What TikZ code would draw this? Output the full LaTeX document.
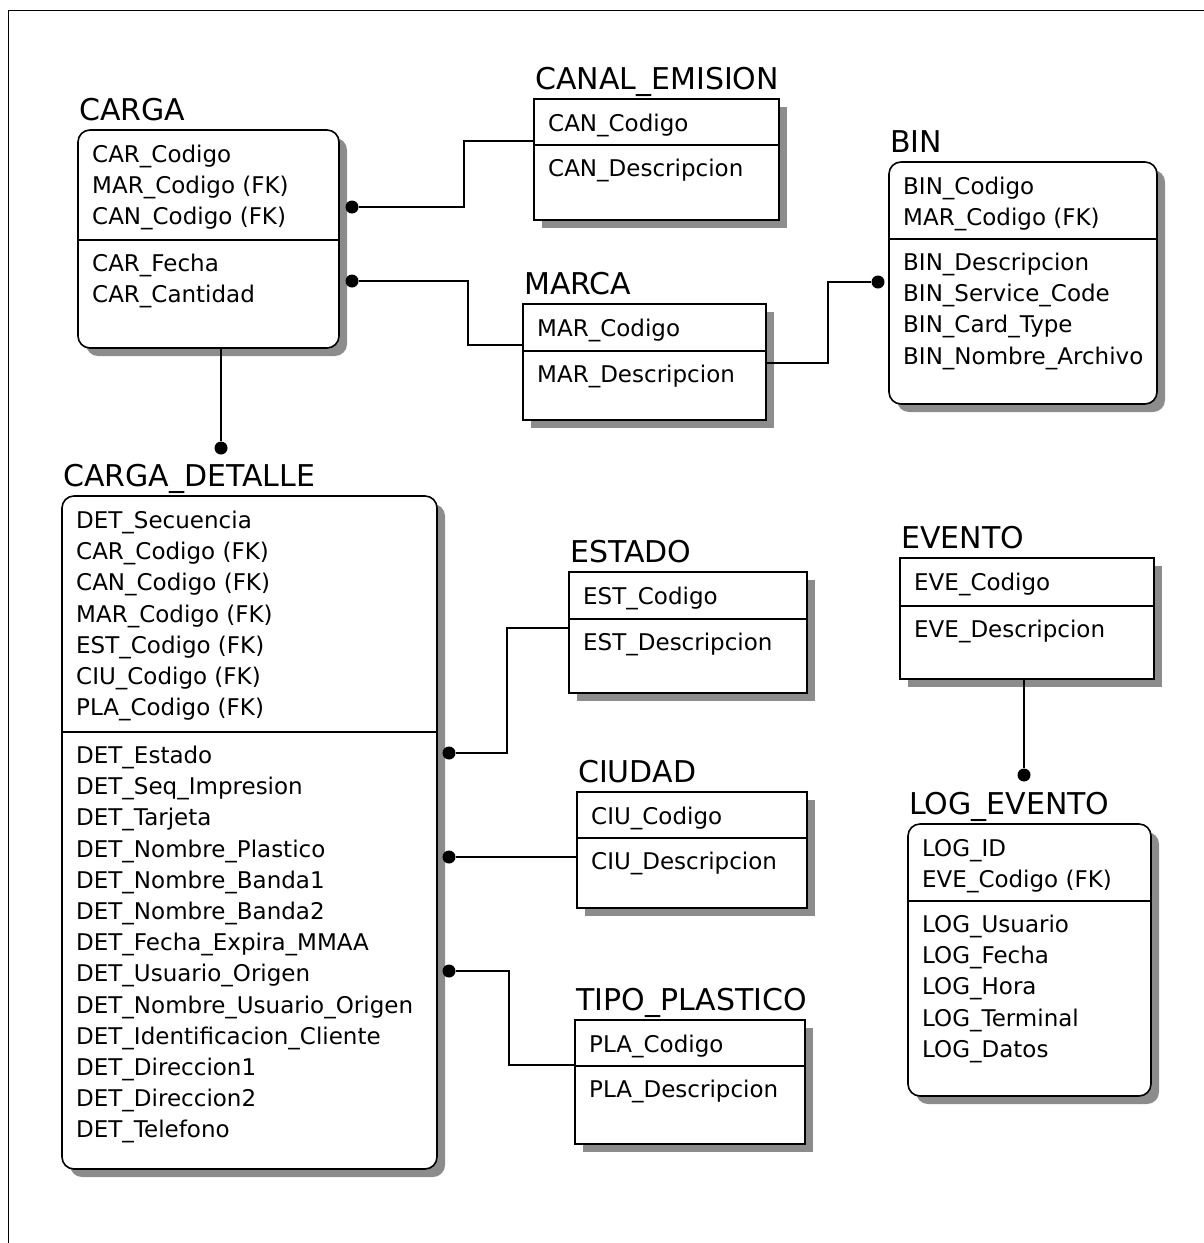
\documentclass[tikz,border=0pt]{standalone}
\usepackage{fontspec}
\setmainfont{DejaVu Sans}
\usetikzlibrary{shadows}

\tikzset{
        tabla/.style={draw, line width=1.6pt, fill=white, anchor=north west, inner sep=0, outer sep=0,
                drop shadow={shadow xshift=8pt, shadow yshift=-8pt, fill=black!45, opacity=1}},
        tablaR/.style={tabla, rounded corners=12pt},
        titulo/.style={anchor=base west, inner sep=0, font=\fontsize{30}{36}\selectfont},
        % campos: anchored at the baseline of the LAST line
        campos/.style={anchor=base west, inner sep=0, align=left, font=\fontsize{23}{31.2}\selectfont},
        punto/.style={circle, fill, inner sep=0, minimum size=13pt},
        rel/.style={line width=1.4pt},
        linea/.style={line width=1.6pt}
}

\begin{document}
\begin{tikzpicture}[x=1pt, y=-1pt]
        \useasboundingbox (0,0) rectangle (1204,1243);
        \draw[line width=1.5pt] (8.5,1243) -- (8.5,10.5) -- (1204,10.5);

        % CARGA
        \node[titulo] (cargaT) at (79,120.5) {CARGA};
        \node[tablaR, minimum width=261, minimum height=218] (carga) at (78,130) {};
        \node[campos] (cargaK) at (92,224.9) {CAR\_Codigo\\MAR\_Codigo (FK)\\CAN\_Codigo (FK)};
        \draw[linea] (carga.west |- 0,240) -- (carga.east |- 0,240);
        \node[campos] (cargaA) at (92,302.7) {CAR\_Fecha\\CAR\_Cantidad};

        % CANAL_EMISION
        \node[titulo] (canalT) at (535,89.5) {CANAL\_EMISION};
        \node[tabla, minimum width=245, minimum height=121] (canal) at (534,99) {};
        \node[campos] (canalK) at (548,131.5) {CAN\_Codigo};
        \draw[linea] (canal.west |- 0,145) -- (canal.east |- 0,145);
        \node[campos] (canalA) at (548,176.5) {CAN\_Descripcion};

        % MARCA
        \node[titulo] (marcaT) at (524,294.5) {MARCA};
        \node[tabla, minimum width=243, minimum height=116] (marca) at (523,304) {};
        \node[campos] (marcaK) at (537,336.5) {MAR\_Codigo};
        \draw[linea] (marca.west |- 0,351) -- (marca.east |- 0,351);
        \node[campos] (marcaA) at (537,382.5) {MAR\_Descripcion};

        % BIN
        \node[titulo] (binT) at (890,152.5) {BIN};
        \node[tablaR, minimum width=268, minimum height=242] (bin) at (889,162) {};
        \node[campos] (binK) at (903,225.7) {BIN\_Codigo\\MAR\_Codigo (FK)};
        \draw[linea] (bin.west |- 0,239) -- (bin.east |- 0,239);
        \node[campos] (binA) at (903,364.1) {BIN\_Descripcion\\BIN\_Service\_Code\\BIN\_Card\_Type\\BIN\_Nombre\_Archivo};

        % CARGA_DETALLE
        \node[titulo] (detT) at (63,486.5) {CARGA\_DETALLE};
        \node[tablaR, minimum width=375, minimum height=673] (det) at (62,496) {};
        \node[campos] (detK) at (76,715.7) {DET\_Secuencia\\CAR\_Codigo (FK)\\CAN\_Codigo (FK)\\MAR\_Codigo (FK)\\EST\_Codigo (FK)\\CIU\_Codigo (FK)\\PLA\_Codigo (FK)};
        \draw[linea] (det.west |- 0,732) -- (det.east |- 0,732);
        \node[campos] (detA) at (76,1137.9) {DET\_Estado\\DET\_Seq\_Impresion\\DET\_Tarjeta\\DET\_Nombre\_Plastico\\DET\_Nombre\_Banda1\\DET\_Nombre\_Banda2\\DET\_Fecha\_Expira\_MMAA\\DET\_Usuario\_Origen\\DET\_Nombre\_Usuario\_Origen\\DET\_Identificacion\_Cliente\\DET\_Direccion1\\DET\_Direccion2\\DET\_Telefono};

        % ESTADO
        \node[titulo] (estadoT) at (570,562.5) {ESTADO};
        \node[tabla, minimum width=238, minimum height=121] (estado) at (569,572) {};
        \node[campos] (estadoK) at (583,604.5) {EST\_Codigo};
        \draw[linea] (estado.west |- 0,619) -- (estado.east |- 0,619);
        \node[campos] (estadoA) at (583,650.5) {EST\_Descripcion};

        % CIUDAD
        \node[titulo] (ciudadT) at (578,782.5) {CIUDAD};
        \node[tabla, minimum width=230, minimum height=116] (ciudad) at (577,792) {};
        \node[campos] (ciudadK) at (591,824.5) {CIU\_Codigo};
        \draw[linea] (ciudad.west |- 0,838) -- (ciudad.east |- 0,838);
        \node[campos] (ciudadA) at (591,869.5) {CIU\_Descripcion};

        % TIPO_PLASTICO
        \node[titulo] (tipoT) at (576,1010.5) {TIPO\_PLASTICO};
        \node[tabla, minimum width=230, minimum height=124] (tipo) at (575,1020) {};
        \node[campos] (tipoK) at (589,1052.5) {PLA\_Codigo};
        \draw[linea] (tipo.west |- 0,1066) -- (tipo.east |- 0,1066);
        \node[campos] (tipoA) at (589,1097.5) {PLA\_Descripcion};

        % EVENTO
        \node[titulo] (eventoT) at (901,548.5) {EVENTO};
        \node[tabla, minimum width=254, minimum height=121] (evento) at (900,558) {};
        \node[campos] (eventoK) at (914,590.5) {EVE\_Codigo};
        \draw[linea] (evento.west |- 0,606) -- (evento.east |- 0,606);
        \node[campos] (eventoA) at (914,637.5) {EVE\_Descripcion};

        % LOG_EVENTO
        \node[titulo] (logT) at (909,814.5) {LOG\_EVENTO};
        \node[tablaR, minimum width=243, minimum height=272] (log) at (908,824) {};
        \node[campos] (logK) at (922,887.7) {LOG\_ID\\EVE\_Codigo (FK)};
        \draw[linea] (log.west |- 0,901) -- (log.east |- 0,901);
        \node[campos] (logA) at (922,1057.3) {LOG\_Usuario\\LOG\_Fecha\\LOG\_Hora\\LOG\_Terminal\\LOG\_Datos};

        % puntos
        \node[punto] (d1) at (352,207) {};
        \node[punto] (d2) at (352,281) {};
        \node[punto] (d3) at (878,282) {};
        \node[punto] (d4) at (221,448) {};
        \node[punto] (d5) at (449,753) {};
        \node[punto] (d6) at (449,857) {};
        \node[punto] (d7) at (449,971) {};
        \node[punto] (d8) at (1024,775) {};

        % relaciones
        \draw[rel] (d1) -- (464,207) |- (canal.west |- 0,141);
        \draw[rel] (d2) -- (468,281) |- (marca.west |- 0,345);
        \draw[rel] (marca.east |- 0,363) -| (828,282) -- (d3);
        \draw[rel] (carga.south -| d4) -- (d4);
        \draw[rel] (d5) -- (507,753) |- (estado.west |- 0,628);
        \draw[rel] (d6) -- (ciudad.west |- d6);
        \draw[rel] (d7) -- (509,971) |- (tipo.west |- 0,1065);
        \draw[rel] (evento.south -| d8) -- (d8);
\end{tikzpicture}
\end{document}
